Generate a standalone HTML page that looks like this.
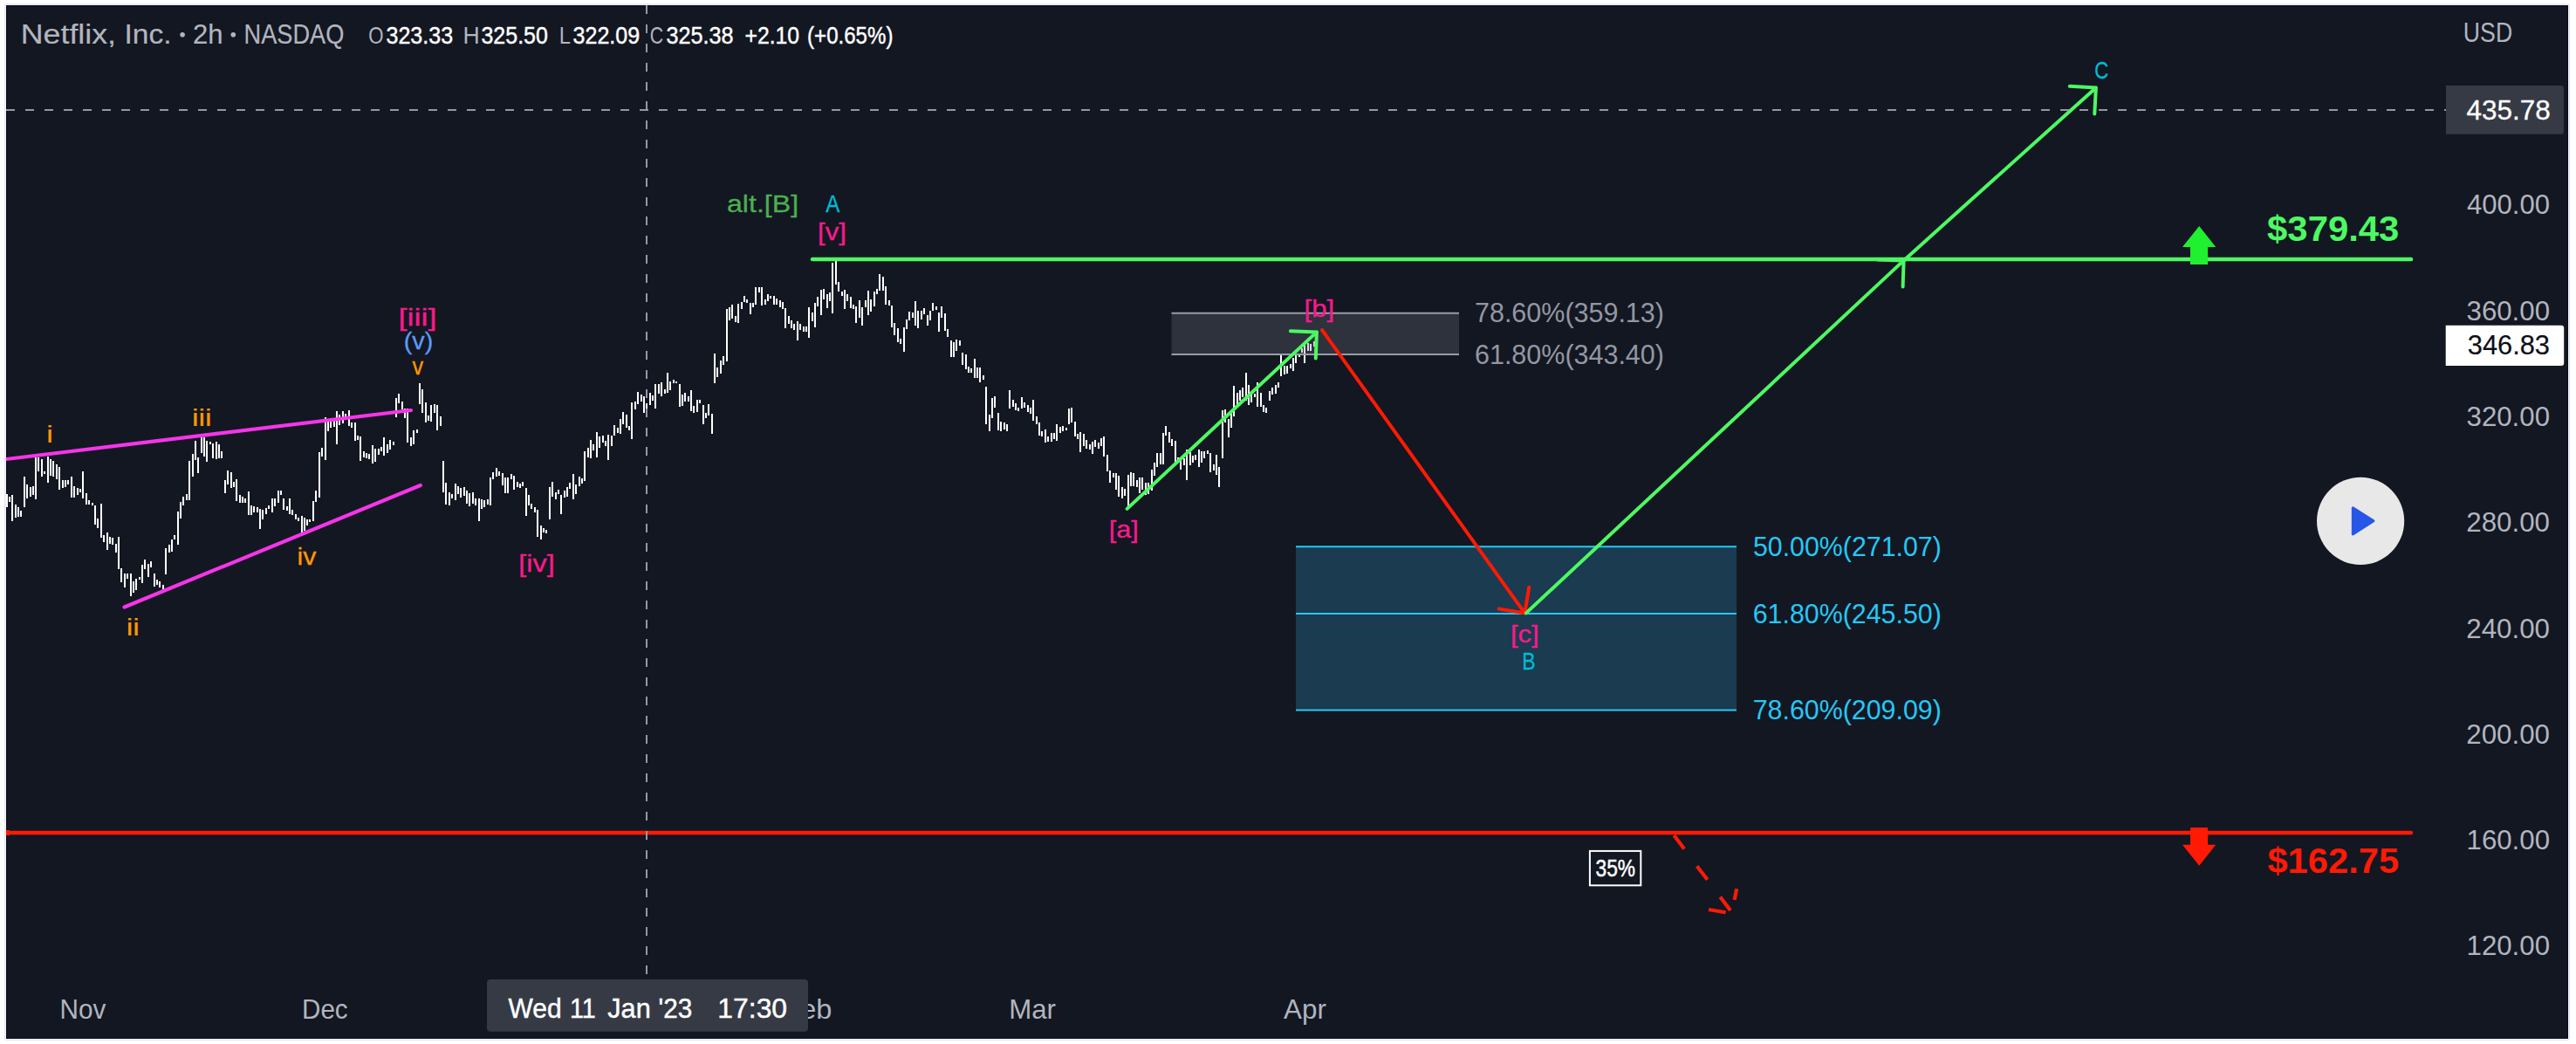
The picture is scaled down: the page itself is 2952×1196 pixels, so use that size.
<!DOCTYPE html><html><head><meta charset="utf-8"><title>NFLX chart</title><style>html,body{margin:0;padding:0;background:#fff;}body{width:2952px;height:1196px;overflow:hidden;position:relative;font-family:"Liberation Sans",sans-serif;}svg{position:absolute;left:0;top:0;display:block}text{font-family:"Liberation Sans",sans-serif;}</style></head><body>
<svg width="2952" height="1196" viewBox="0 0 2952 1196">
<rect x="5" y="4" width="2940" height="1188" rx="2.5" fill="#e4e6f0"/>
<rect x="6" y="5" width="2938" height="1186" rx="1.5" fill="#f0f2fb"/>
<rect x="7" y="6" width="2936" height="1184" fill="#0a0d17"/>
<rect x="8" y="7" width="2934" height="1182" fill="#131722"/>
<clipPath id="pc"><rect x="7" y="6" width="2936" height="1184"/></clipPath><g clip-path="url(#pc)">
<path d="M8.0 566.2V581.1M11.0 568.5V575.4M14.3 567.4V596.8M17.7 577.7V592.6M20.9 581.1V591.5M24.1 584.6V592.2M27.8 546.2V580.7M31.3 554.7V570.8M34.5 558.2V568.5M37.7 557.0V566.9M40.9 524.1V572.4M44.4 524.1V540.2M47.6 526.0V545.5M50.8 540.2V543.2M54.7 522.8V553.1M57.9 526.0V544.8M61.4 528.3V545.5M64.8 532.4V548.5M68.0 535.2V560.5M71.5 550.1V559.3M74.7 550.1V557.7M78.2 550.1V555.4M81.8 546.2V569.7M85.1 557.0V569.7M88.5 559.3V567.4M91.7 560.0V563.9M95.2 540.2V570.8M98.6 564.6V577.7M102.1 573.1V577.7M105.5 576.1V578.9M108.7 578.9V601.4M112.0 593.8V605.3M115.6 577.0V615.6M118.9 613.3V620.7M123.0 610.3V629.9M126.0 614.5V622.5M129.2 616.3V623.7M132.6 623.0V632.9M136.1 615.2V652.4M139.3 651.3V666.7M142.8 656.6V672.6M146.2 657.0V662.8M149.9 656.6V682.8M153.1 665.7V678.9M156.3 663.4V675.9M159.8 661.1V663.9M163.0 647.4V668.0M166.2 641.4V652.4M169.7 646.0V660.5M172.9 643.2V650.1M177.0 657.0V672.0M180.2 663.9V669.7M183.4 665.7V673.1M186.9 670.3V675.4M189.9 628.3V657.7M193.6 624.4V632.9M197.0 617.9V631.7M200.2 613.3V618.4M203.9 586.2V624.1M207.1 575.4V593.8M210.3 569.2V578.9M214.0 566.2V572.6M217.0 528.3V572.6M220.9 519.5V545.5M224.1 505.3V527.1M227.1 524.1V542.1M230.6 501.1V518.6M233.8 501.1V522.5M237.0 504.8V528.7M240.7 506.4V509.4M243.9 508.0V524.8M247.6 506.0V525.5M251.1 508.5V525.4M254.2 517.4V525.4M258.0 550.2V565.0M261.2 539.1V554.9M264.5 541.2V558.7M267.9 551.7V558.0M271.1 549.0V573.8M274.7 567.1V576.0M277.8 569.2V576.0M281.2 570.7V576.0M284.8 563.3V590.3M287.9 579.1V589.7M291.3 580.2V586.5M294.7 581.2V586.5M298.1 583.3V605.9M301.4 584.4V594.9M304.8 581.9V589.0M308.2 578.5V583.3M311.5 570.7V586.9M314.9 570.7V580.2M318.5 561.6V576.0M321.9 561.6V566.5M325.2 570.7V584.0M328.6 579.7V585.4M332.0 570.7V588.6M335.4 584.0V589.7M338.7 588.6V594.9M342.1 593.2V596.6M345.7 591.1V609.7M348.8 593.2V608.0M352.2 594.9V601.7M355.4 594.9V598.1M358.7 574.3V597.0M362.3 562.3V574.9M365.7 518.0V570.1M369.1 513.2V523.3M372.7 478.0V527.1M375.8 482.8V493.8M379.2 479.4V490.0M382.6 479.4V488.5M385.9 471.0V508.5M389.3 475.2V487.4M392.9 471.0V485.3M396.0 473.7V478.0M399.6 469.5V487.9M403.0 483.6V489.5M406.6 484.3V504.7M410.0 499.0V503.9M412.9 499.7V527.9M416.5 516.5V524.3M419.9 518.6V525.0M423.2 520.1V525.8M426.8 509.6V530.6M430.0 513.8V528.5M433.6 514.4V520.7M436.9 512.3V516.5M440.3 501.1V522.2M443.7 508.5V519.1M447.0 504.3V514.8M450.6 506.0V510.2M453.8 456.2V478.0M457.2 450.6V462.1M460.7 460.0V468.9M463.9 468.1V478.6M467.1 468.1V506.8M470.7 501.1V510.6M474.0 493.3V508.5M477.6 491.7V495.9M481.0 439.4V462.6M484.1 446.3V472.7M487.7 461.1V484.3M490.9 475.8V481.5M494.3 464.3V483.2M497.6 463.2V472.7M501.3 463.7V492.6M504.6 477.0V488.0M508.0 528.0V563.8M511.2 553.3V578.2M514.8 563.8V578.6M517.9 565.5V571.2M521.7 554.4V572.7M524.9 557.1V566.0M528.2 559.2V569.7M531.6 557.9V567.6M534.8 562.2V576.9M537.9 564.9V580.3M541.7 564.3V576.5M544.9 571.2V578.6M548.9 571.2V597.1M552.1 571.9V582.8M555.0 572.7V580.7M558.6 572.3V578.2M561.7 546.6V579.0M564.9 540.7V549.1M568.7 536.0V545.9M572.1 540.2V544.9M575.9 542.3V555.8M579.0 547.0V564.9M582.0 546.6V564.9M585.8 542.8V548.7M588.9 544.9V560.7M592.7 552.3V557.5M595.9 554.4V558.6M599.1 552.3V557.1M602.8 559.2V590.8M605.8 567.0V579.0M609.0 576.5V582.8M612.8 581.1V586.6M615.9 583.9V614.8M619.7 602.2V617.6M622.9 604.9V610.2M625.8 607.0V610.8M629.8 557.9V595.0M633.0 552.3V569.1M637.0 564.3V571.9M639.9 560.9V566.4M643.1 567.0V589.1M646.9 562.2V570.2M649.8 558.2V568.5M653.0 553.3V560.1M656.8 543.2V571.9M660.2 555.0V566.0M663.8 545.9V556.5M666.9 548.0V553.7M669.9 517.1V550.8M673.7 513.3V523.8M676.8 504.4V524.9M680.0 509.1V515.8M684.0 495.4V523.8M687.1 500.2V512.8M690.7 498.5V507.4M693.9 505.3V511.2M697.0 497.5V527.0M700.8 498.5V510.7M704.0 487.3V498.5M707.8 489.7V496.0M710.7 480.2V496.8M714.1 472.2V486.3M717.7 474.9V490.1M720.9 488.4V492.6M723.8 461.0V502.7M727.6 459.5V469.0M731.0 449.0V462.7M734.6 452.1V460.2M737.7 454.3V472.8M740.9 461.6V477.4M744.9 450.0V463.7M748.1 453.2V458.9M750.8 439.5V468.0M755.0 439.9V451.1M758.0 438.0V453.8M761.9 446.0V450.6M765.1 427.0V450.2M768.0 436.9V446.8M772.0 435.0V438.6M775.0 437.1V439.2M779.0 440.1V466.0M781.9 451.9V464.5M785.1 450.2V459.7M788.7 454.0V459.7M792.0 447.0V470.8M795.0 464.5V473.4M799.0 457.5V471.7M801.9 457.5V461.8M805.7 463.9V486.0M808.9 472.9V478.6M812.1 463.2V475.5M815.8 474.4V497.0M819.0 405.1V438.8M822.0 421.1V431.6M826.0 413.3V428.0M828.9 408.4V417.5M832.9 354.3V413.9M835.9 351.5V366.9M839.0 349.4V364.8M842.8 362.1V369.0M846.0 348.2V369.7M850.0 345.8V353.9M852.9 339.3V345.8M856.1 343.1V347.3M859.9 346.9V360.0M863.1 346.5V351.5M866.0 329.2V349.4M870.0 329.2V334.7M873.2 329.2V349.9M877.0 342.7V349.4M880.1 337.2V345.2M883.1 338.5V341.6M887.1 339.3V349.4M890.0 341.8V349.4M894.0 344.4V351.5M897.0 345.8V354.3M900.1 352.8V375.8M903.9 362.3V370.5M907.1 367.3V376.4M910.1 370.9V377.5M914.1 368.0V389.7M917.0 370.5V377.5M921.0 374.3V379.6M924.0 374.3V380.2M927.1 352.2V386.9M930.9 357.9V367.6M934.1 346.9V374.7M937.2 339.9V350.7M941.0 332.1V360.6M944.0 331.1V342.7M947.8 337.4V352.6M950.9 334.9V344.8M954.1 301.2V358.9M957.9 298.4V326.2M961.1 322.9V334.3M964.8 333.6V338.5M968.0 332.1V353.9M971.0 337.2V344.8M975.0 340.2V352.8M977.9 349.4V353.6M981.1 351.1V369.7M984.9 344.2V363.8M988.0 352.4V372.6M991.8 344.4V352.4M995.0 333.2V360.8M998.1 343.1V357.0M1001.9 334.3V351.1M1005.1 331.3V336.8M1008.3 314.2V332.6M1012.1 317.0V333.2M1015.2 328.4V348.6M1019.0 344.4V350.1M1022.1 350.1V374.8M1025.1 370.2V383.9M1028.9 376.1V391.7M1032.0 387.9V394.4M1036.0 375.2V402.8M1039.0 366.4V376.9M1042.1 357.3V366.8M1046.1 357.9V363.6M1049.1 344.9V372.7M1052.0 355.8V375.8M1056.0 356.2V365.9M1059.0 352.9V359.6M1063.0 361.1V372.7M1066.2 356.2V366.8M1069.1 347.0V356.2M1073.1 351.2V354.8M1076.1 358.4V379.9M1079.2 351.2V363.8M1083.0 359.0V379.0M1086.2 376.9V386.0M1090.2 390.2V408.9M1093.1 391.7V408.9M1096.3 389.1V401.8M1100.1 390.2V395.9M1103.2 404.3V417.6M1107.0 406.0V422.8M1110.2 419.9V426.8M1113.2 422.2V426.8M1117.2 411.0V432.8M1120.1 420.7V432.8M1123.3 421.2V437.6M1127.1 430.0V434.9M1130.2 443.3V486.1M1134.0 475.3V493.9M1137.2 455.5V478.7M1140.1 454.0V466.9M1144.1 473.2V493.2M1147.1 482.7V493.9M1151.1 484.0V491.8M1154.0 486.1V493.9M1157.2 447.1V467.9M1161.0 458.0V465.8M1164.2 461.6V470.1M1167.1 467.1V470.7M1171.1 455.1V467.9M1174.1 460.8V466.9M1178.1 463.9V472.2M1181.0 466.9V473.8M1184.2 458.3V481.9M1188.0 477.0V486.1M1191.1 484.0V499.1M1194.1 494.1V499.6M1198.1 492.2V506.9M1201.0 499.8V505.5M1205.0 496.2V505.9M1208.0 496.2V502.7M1211.1 486.1V505.0M1214.9 489.0V496.0M1218.1 487.5V493.9M1221.9 490.3V493.2M1225.1 468.2V486.1M1228.2 467.1V484.0M1232.0 482.9V500.2M1235.2 497.4V502.7M1238.1 494.9V517.7M1242.1 497.0V511.1M1245.1 504.0V514.3M1248.9 509.0V514.7M1252.0 505.9V519.8M1255.0 504.4V512.2M1259.0 506.5V514.3M1261.9 502.3V510.8M1265.1 500.2V522.8M1268.9 520.9V539.7M1272.0 539.0V552.9M1275.8 542.4V547.4M1279.0 542.4V561.4M1282.1 544.9V569.2M1285.9 558.0V570.6M1289.1 560.3V568.1M1293.1 544.1V582.9M1296.0 541.1V556.7M1299.0 542.4V556.7M1303.0 549.8V558.0M1306.2 547.0V564.9M1309.1 547.0V560.7M1312.9 552.5V567.0M1316.1 553.4V566.0M1319.9 538.0V562.2M1323.0 530.2V544.9M1326.2 519.2V535.4M1330.0 519.2V531.9M1332.9 496.0V531.9M1336.1 488.2V499.0M1340.1 495.0V506.6M1343.0 502.8V510.8M1347.0 505.3V529.7M1350.0 524.3V529.1M1353.2 526.0V538.2M1356.9 525.3V532.9M1360.1 515.0V550.2M1363.9 518.2V532.9M1367.1 522.2V529.7M1370.0 520.7V526.6M1374.0 515.0V535.4M1377.0 516.9V529.7M1380.1 516.9V525.1M1384.1 516.3V520.3M1387.1 519.2V540.7M1391.1 531.9V539.2M1394.0 520.9V544.1M1397.2 535.0V558.0M1401.0 470.3V524.9M1404.2 469.1V483.8M1407.9 479.6V500.7M1411.1 474.3V490.1M1414.1 442.1V477.1M1418.1 449.7V463.8M1421.0 446.9V458.5M1424.2 443.8V455.4M1428.0 426.9V458.5M1430.9 441.2V463.8M1434.1 451.8V461.0M1437.9 451.1V454.7M1441.0 438.1V465.9M1444.8 449.7V466.1M1448.0 464.2V472.2M1450.9 466.5V472.8M1454.9 448.4V458.5M1458.1 444.2V451.8M1461.9 440.6V451.1M1465.1 438.1V443.8M1468.2 406.5V431.1M1472.0 418.5V429.4M1475.2 419.1V428.0M1479.0 417.0V421.6M1482.1 410.0V425.2M1485.1 406.2V415.9M1488.9 404.8V409.0M1492.0 399.1V403.7M1495.0 394.9V415.9M1499.0 393.2V402.0M1501.9 394.4V401.6M1505.7 391.1V397.4" stroke="#fff" stroke-width="2" fill="none" shape-rendering="crispEdges"/>
<rect x="1342.5" y="358.7" width="329.5" height="47.2" fill="#787b86" fill-opacity="0.28"/>
<path d="M1342.5 358.7H1672M1342.5 405.9H1672" stroke="#9a9da8" stroke-width="2" fill="none"/>
<rect x="1485" y="626.3" width="505" height="187.3" fill="#1a3b50"/>
<path d="M1485 626.3H1990M1485 703H1990M1485 813.6H1990" stroke="#25c8f6" stroke-width="2" fill="none"/>
<path d="M7 526L471 470M142.5 695.5L481.8 556" stroke="#f535e8" stroke-width="4.2" stroke-linecap="round" fill="none"/>
<path d="M931 297H2763" stroke="#4df962" stroke-width="4.5" stroke-linecap="round" fill="none"/>
<path d="M8 954H2763" stroke="#ff1a05" stroke-width="4.4" stroke-linecap="round" fill="none"/>
<rect x="7" y="951" width="4" height="6" fill="#ff1a05"/>
<path d="M1291.6 582.9L1508.9 380.4M1507.8 410.4L1508.9 380.4L1478.9 379.3" fill="none" stroke="#4df962" stroke-width="4" stroke-linecap="round" stroke-linejoin="round"/>
<path d="M1515.0 378.0L1747.3 702.4M1717.7 697.5L1747.3 702.4L1752.2 672.8" fill="none" stroke="#ff1a05" stroke-width="4" stroke-linecap="round" stroke-linejoin="round"/>
<path d="M1748.8 702.4L2181.6 298.4M2180.6 328.4L2181.6 298.4L2151.6 297.4" fill="none" stroke="#4df962" stroke-width="4" stroke-linecap="round" stroke-linejoin="round"/>
<path d="M2181.6 298.4L2401.9 100.4M2400.3 130.4L2401.9 100.4L2371.9 98.8" fill="none" stroke="#4df962" stroke-width="4" stroke-linecap="round" stroke-linejoin="round"/>
<path d="M1918.4 957L1930.1 972.4M1944.6 992.3L1956.6 1007.8M1971.3 1027.4L1983 1042.9M1958 1042L1977.6 1045.2M1990.2 1018.2L1987.6 1030.8" fill="none" stroke="#ff1a05" stroke-width="4.2"/>
<path d="M7 126H2803" stroke="#9598a1" stroke-width="2" stroke-dasharray="10 12" fill="none" shape-rendering="crispEdges"/>
<path d="M741 6V1117" stroke="#9598a1" stroke-width="2" stroke-dasharray="10 12" fill="none" shape-rendering="crispEdges"/>
</g>
<path d="M2520.2 259.1L2539.2 283H2530.1V303H2510V283H2501Z" fill="#1ff030"/>
<path d="M2510 948H2530.1V967.8H2539.2L2520.2 991.7L2501 967.8H2510Z" fill="#ff1a05"/>
<circle cx="2705.1" cy="596.9" r="50.1" fill="#e8e8e8"/>
<path d="M2696.3 581.7L2720 596.8L2696.3 611.9Z" fill="#2757e8" stroke="#2757e8" stroke-width="3" stroke-linejoin="round"/>
<rect x="1821.9" y="974.9" width="58.4" height="39.4" fill="#131722" stroke="#fff" stroke-width="2"/>
<path d="M2803 98.1H2935a3 3 0 0 1 3 3V150.8a3 3 0 0 1 -3 3H2803Z" fill="#363a45"/>
<path d="M2802.7 372.8H2935.2a3 3 0 0 1 3 3V416.1a3 3 0 0 1 -3 3H2802.7Z" fill="#ffffff"/>
<rect x="558" y="1122" width="368" height="59.7" rx="4" fill="#363a45"/>
<circle cx="209.1" cy="39.8" r="2.8" fill="#b2b5be"/><circle cx="267.3" cy="39.8" r="2.8" fill="#b2b5be"/>
<clipPath id="fc"><rect x="926" y="1100" width="100" height="90"/></clipPath>
<text transform="translate(23.82 49.90) scale(1.1531 1)" font-size="31" font-weight="normal" fill="#b2b5be" stroke="#b2b5be" stroke-width="0.2">Netflix,</text>
<text transform="translate(142.53 49.90) scale(1.0809 1)" font-size="31" font-weight="normal" fill="#b2b5be" stroke="#b2b5be" stroke-width="0.2">Inc.</text>
<text transform="translate(220.90 49.90) scale(1.0000 1)" font-size="31" font-weight="normal" fill="#b2b5be" stroke="#b2b5be" stroke-width="0.2">2h</text>
<text transform="translate(279.61 49.90) scale(0.8764 1)" font-size="31" font-weight="normal" fill="#b2b5be" stroke="#b2b5be" stroke-width="0.2">NASDAQ</text>
<text transform="translate(422.29 50.40) scale(0.8107 1)" font-size="27.4" font-weight="normal" fill="#b2b5be">O</text>
<text transform="translate(530.42 50.40) scale(0.9705 1)" font-size="27.4" font-weight="normal" fill="#b2b5be">H</text>
<text transform="translate(640.65 50.40) scale(0.8667 1)" font-size="27.4" font-weight="normal" fill="#b2b5be">L</text>
<text transform="translate(744.75 50.40) scale(0.7800 1)" font-size="27.4" font-weight="normal" fill="#b2b5be">C</text>
<text transform="translate(442.48 50.40) scale(0.9153 1)" font-size="27.4" font-weight="normal" fill="#ffffff" stroke="#ffffff" stroke-width="0.45">323.33</text>
<text transform="translate(551.49 50.40) scale(0.9113 1)" font-size="27.4" font-weight="normal" fill="#ffffff" stroke="#ffffff" stroke-width="0.45">325.50</text>
<text transform="translate(656.59 50.40) scale(0.9141 1)" font-size="27.4" font-weight="normal" fill="#ffffff" stroke="#ffffff" stroke-width="0.45">322.09</text>
<text transform="translate(763.48 50.40) scale(0.9202 1)" font-size="27.4" font-weight="normal" fill="#ffffff" stroke="#ffffff" stroke-width="0.45">325.38</text>
<text transform="translate(853.47 50.40) scale(0.9030 1)" font-size="27.4" font-weight="normal" fill="#ffffff" stroke="#ffffff" stroke-width="0.45">+2.10</text>
<text transform="translate(925.06 50.40) scale(0.8793 1)" font-size="27.4" font-weight="normal" fill="#ffffff" stroke="#ffffff" stroke-width="0.45">(+0.65%)</text>
<text transform="translate(53.30 507.10) scale(1.2000 1)" font-size="28.5" font-weight="normal" fill="#ff9800" stroke="#ff9800" stroke-width="0.15">i</text>
<text transform="translate(219.90 487.60) scale(1.2000 1)" font-size="28.5" font-weight="normal" fill="#ff9800" stroke="#ff9800" stroke-width="0.15">iii</text>
<text transform="translate(144.75 728.10) scale(1.2000 1)" font-size="28.5" font-weight="normal" fill="#ff9800" stroke="#ff9800" stroke-width="0.15">ii</text>
<text transform="translate(340.57 646.60) scale(1.0649 1)" font-size="28.5" font-weight="normal" fill="#ff9800" stroke="#ff9800" stroke-width="0.3">iv</text>
<text transform="translate(472.58 428.50) scale(0.8873 1)" font-size="28.5" font-weight="normal" fill="#ff9800" stroke="#ff9800" stroke-width="0.3">v</text>
<text transform="translate(462.63 400.30) scale(1.0118 1)" font-size="28.5" font-weight="normal" fill="#5b9cf6" stroke="#5b9cf6" stroke-width="0.3">(v)</text>
<text transform="translate(456.46 373.00) scale(1.2683 1)" font-size="28.5" font-weight="normal" fill="#f91a8c" stroke="#f91a8c" stroke-width="0.3">[iii]</text>
<text transform="translate(594.33 654.70) scale(1.1354 1)" font-size="28.5" font-weight="normal" fill="#f91a8c" stroke="#f91a8c" stroke-width="0.3">[iv]</text>
<text transform="translate(832.89 243.20) scale(1.1295 1)" font-size="28.5" font-weight="normal" fill="#4caf50" stroke="#4caf50" stroke-width="0.3">alt.[B]</text>
<text transform="translate(946.30 243.00) scale(0.8474 1)" font-size="28.5" font-weight="normal" fill="#00bcd4" stroke="#00bcd4" stroke-width="0.3">A</text>
<text transform="translate(937.02 275.00) scale(1.0923 1)" font-size="28.5" font-weight="normal" fill="#f91a8c" stroke="#f91a8c" stroke-width="0.3">[v]</text>
<text transform="translate(1270.75 615.80) scale(1.0775 1)" font-size="28.5" font-weight="normal" fill="#f91a8c" stroke="#f91a8c" stroke-width="0.3">[a]</text>
<text transform="translate(1494.62 363.30) scale(1.0919 1)" font-size="28.5" font-weight="normal" fill="#f91a8c" stroke="#f91a8c" stroke-width="0.3">[b]</text>
<text transform="translate(1730.92 735.80) scale(1.0923 1)" font-size="28.5" font-weight="normal" fill="#f91a8c" stroke="#f91a8c" stroke-width="0.3">[c]</text>
<text transform="translate(1744.29 767.00) scale(0.8066 1)" font-size="28.5" font-weight="normal" fill="#00bcd4" stroke="#00bcd4" stroke-width="0.3">B</text>
<text transform="translate(2400.16 90.00) scale(0.7800 1)" font-size="28.5" font-weight="normal" fill="#00bcd4" stroke="#00bcd4" stroke-width="0.3">C</text>
<text transform="translate(1689.97 369.20) scale(0.9530 1)" font-size="32" font-weight="normal" fill="#9497a3">78.60%(359.13)</text>
<text transform="translate(1689.97 417.30) scale(0.9530 1)" font-size="32" font-weight="normal" fill="#9497a3">61.80%(343.40)</text>
<text transform="translate(2008.91 637.10) scale(0.9483 1)" font-size="32" font-weight="normal" fill="#25c8f6">50.00%(271.07)</text>
<text transform="translate(2008.68 713.80) scale(0.9494 1)" font-size="32" font-weight="normal" fill="#25c8f6">61.80%(245.50)</text>
<text transform="translate(2008.68 824.40) scale(0.9494 1)" font-size="32" font-weight="normal" fill="#25c8f6">78.60%(209.09)</text>
<text transform="translate(2598.08 275.70) scale(1.0466 1)" font-size="40" font-weight="bold" fill="#4df962">$379.43</text>
<text transform="translate(2598.38 999.90) scale(1.0427 1)" font-size="40" font-weight="bold" fill="#ff1a05">$162.75</text>
<text transform="translate(1828.57 1003.80) scale(0.8264 1)" font-size="27.5" font-weight="normal" fill="#ffffff" stroke="#ffffff" stroke-width="0.5">35%</text>
<text transform="translate(2827.06 245.30) scale(0.9857 1)" font-size="31.5" font-weight="normal" fill="#b2b5be">400.00</text>
<text transform="translate(2826.56 366.60) scale(0.9909 1)" font-size="31.5" font-weight="normal" fill="#b2b5be">360.00</text>
<text transform="translate(2826.56 487.90) scale(0.9909 1)" font-size="31.5" font-weight="normal" fill="#b2b5be">320.00</text>
<text transform="translate(2826.31 609.20) scale(0.9936 1)" font-size="31.5" font-weight="normal" fill="#b2b5be">280.00</text>
<text transform="translate(2826.31 730.50) scale(0.9936 1)" font-size="31.5" font-weight="normal" fill="#b2b5be">240.00</text>
<text transform="translate(2826.31 851.80) scale(0.9936 1)" font-size="31.5" font-weight="normal" fill="#b2b5be">200.00</text>
<text transform="translate(2826.52 973.10) scale(0.9914 1)" font-size="31.5" font-weight="normal" fill="#b2b5be">160.00</text>
<text transform="translate(2826.52 1094.40) scale(0.9914 1)" font-size="31.5" font-weight="normal" fill="#b2b5be">120.00</text>
<text transform="translate(2822.87 47.70) scale(0.8599 1)" font-size="31" font-weight="normal" fill="#b2b5be">USD</text>
<text transform="translate(2826.45 136.50) scale(0.9995 1)" font-size="31.5" font-weight="normal" fill="#ffffff" stroke="#ffffff" stroke-width="0.3">435.78</text>
<text transform="translate(2827.78 406.20) scale(0.9781 1)" font-size="31.5" font-weight="normal" fill="#0d0f17" stroke="#0d0f17" stroke-width="0.2">346.83</text>
<text transform="translate(68.54 1166.60) scale(0.9427 1)" font-size="31.5" font-weight="normal" fill="#b2b5be">Nov</text>
<text transform="translate(346.05 1166.60) scale(0.9384 1)" font-size="31.5" font-weight="normal" fill="#b2b5be">Dec</text>
<text transform="translate(1156.22 1166.60) scale(0.9912 1)" font-size="31.5" font-weight="normal" fill="#b2b5be">Mar</text>
<text transform="translate(1471.10 1166.60) scale(0.9938 1)" font-size="31.5" font-weight="normal" fill="#b2b5be">Apr</text>
<g clip-path="url(#fc)"><text transform="translate(897.32 1166.60) scale(1.0337 1)" font-size="31.5" font-weight="normal" fill="#b2b5be">Feb</text></g>
<text transform="translate(582.56 1165.80) scale(0.9462 1)" font-size="31.7" font-weight="normal" fill="#ffffff" stroke="#ffffff" stroke-width="0.45">Wed</text>
<text transform="translate(652.92 1165.80) scale(0.9113 1)" font-size="31.7" font-weight="normal" fill="#ffffff" stroke="#ffffff" stroke-width="0.45">11</text>
<text transform="translate(696.22 1165.80) scale(0.9691 1)" font-size="31.7" font-weight="normal" fill="#ffffff" stroke="#ffffff" stroke-width="0.45">Jan</text>
<text transform="translate(754.49 1165.80) scale(0.9377 1)" font-size="31.7" font-weight="normal" fill="#ffffff" stroke="#ffffff" stroke-width="0.45">'23</text>
<text transform="translate(822.28 1165.80) scale(1.0066 1)" font-size="31.7" font-weight="normal" fill="#ffffff" stroke="#ffffff" stroke-width="0.45">17:30</text>
</svg></body></html>
